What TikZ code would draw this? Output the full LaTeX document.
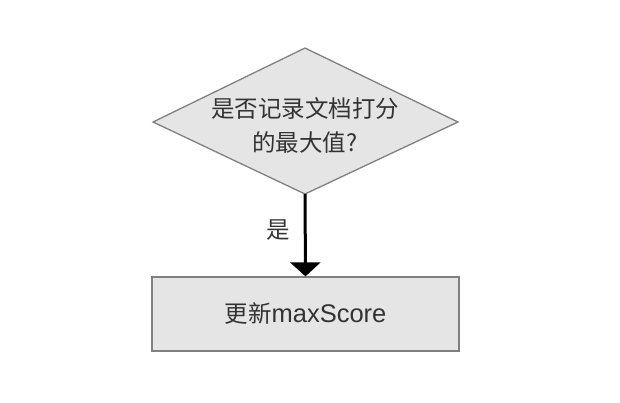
\documentclass[tikz,border=0pt]{standalone}
\usepackage{fontspec}
\setmainfont{Liberation Sans}
\newfontfamily\cjk{Noto Sans CJK SC}
\usetikzlibrary{shapes.geometric,arrows.meta}
\tikzset{
  shapebox/.style={draw=black!50, fill=black!10, line width=1.3pt},
  txt/.style={text=black!80, font=\fontsize{23.5}{34}\selectfont, align=center},
}
\begin{document}
\begin{tikzpicture}[x=1pt,y=-1pt]
\useasboundingbox (0,0) rectangle (620,402);
\coordinate (dt) at (305,48);
\coordinate (dl) at (153,122);
\coordinate (db) at (305,194);
\coordinate (dr) at (458,122);
\draw[shapebox] (dt) -- (dr) -- (db) -- (dl) -- cycle;
\node[txt] (q) at (305,125) {\cjk 是否记录文档打分\\\cjk 的最大值?};
\node[shapebox, minimum width=307pt, minimum height=74pt, inner sep=0pt] (r) at (305.5,314) {};
\node[txt] (rt) at (r.center) {\cjk 更新{\rmfamily\fontsize{25.5}{34}\selectfont maxScore}};
\draw[line width=3pt, -{Triangle[width=30pt,length=14pt]}] (db) -- (r.north);
\node[txt] (yes) at (278,230) {\cjk 是};
\end{tikzpicture}
\end{document}
